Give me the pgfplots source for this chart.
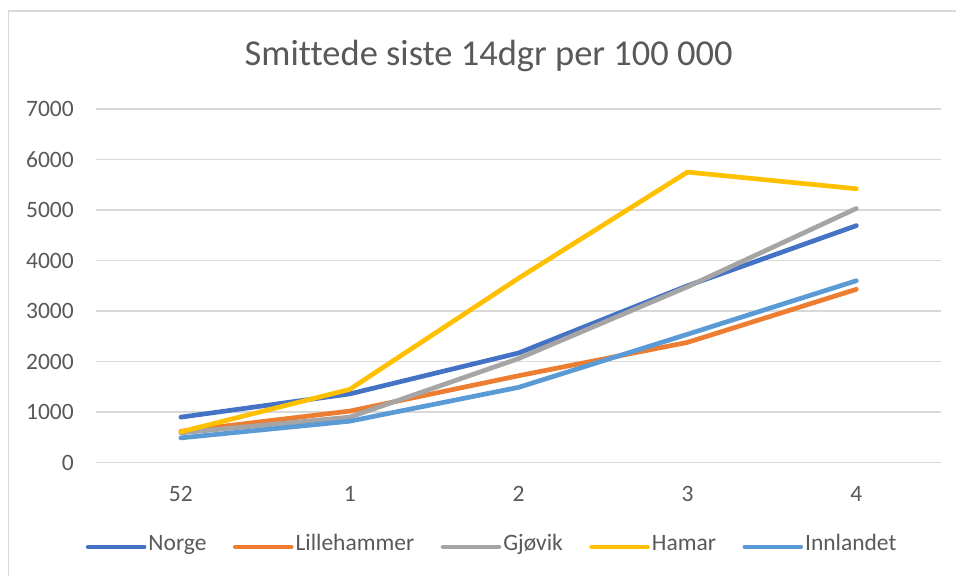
\documentclass[border=0pt]{standalone}
\usepackage{fontspec}
\setmainfont{Carlito}[Ligatures={NoCommon}]
\usepackage{pgfplots}
\pgfplotsset{compat=1.18}
\definecolor{cNorge}{HTML}{4472C4}
\definecolor{cLille}{HTML}{ED7D31}
\definecolor{cGjovik}{HTML}{A5A5A5}
\definecolor{cHamar}{HTML}{FFC000}
\definecolor{cInn}{HTML}{5B9BD5}
\definecolor{txt}{HTML}{595959}
\definecolor{gridc}{HTML}{D9D9D9}
\begin{document}
\begin{tikzpicture}
% page size and chart border (1px = 1pt; axis box south west at (96.5,463) px)
\path[fill=white] (-96.5pt,-113pt) rectangle (860.5pt,463pt);
\draw[gridc, line width=1.5pt] (-88pt,-113pt) -- (-88pt,452pt) -- (860.5pt,452pt);
\node[anchor=base, text=txt, font=\fontsize{36.5}{40}\selectfont] at (392.5pt,397pt) {Smittede siste 14dgr per 100 000};
\begin{axis}[
  at={(0pt,0pt)}, anchor=south west,
  scale only axis, width=845pt, height=354pt,
  xmin=-0.5, xmax=4.5, ymin=0, ymax=7000,
  xtick={0,1,2,3,4}, xticklabels={52,1,2,3,4},
  ytick={0,1000,...,7000},
  ymajorgrids, grid style={gridc, line width=1.3pt},
  axis line style={draw=none},
  major tick length=0pt,
  tick style={draw=none},
  /pgf/number format/assume math mode=true,
  /pgf/number format/set thousands separator={},
  ticklabel style={font=\fontsize{23.5}{28}\selectfont, text=txt, inner sep=0pt},
  yticklabel style={anchor=east, xshift=-22.5pt},
  xticklabel style={anchor=north, yshift=-23.7pt},
  clip=false,
  legend columns=5,
  legend style={at={(0.4675,-0.2381)}, anchor=center, draw=none, fill=none,
    inner sep=0pt, column sep=0pt,
    font=\fontsize{23.5}{28}\selectfont, text=txt,
    cells={anchor=center},
    nodes={inner sep=0pt, text height=0.64em, text depth=0pt},
    /tikz/every odd column/.style={column sep=2pt},
    /tikz/every even column/.style={column sep=26.5pt}},
  legend image code/.code={
    \path (0pt,0pt) -- (56pt,0pt);
    \draw[#1, line width=4.7pt, line cap=round] (2.35pt,0pt) -- (53.65pt,0pt);
  },
  every axis plot/.append style={line width=4.7pt, line join=round, line cap=round, no markers},
]
\addplot[cNorge] coordinates {(0,900) (1,1360) (2,2170) (3,3500) (4,4690)};
\addlegendentry{Norge}
\addplot[cLille] coordinates {(0,620) (1,1020) (2,1720) (3,2380) (4,3430)};
\addlegendentry{Lillehammer}
\addplot[cGjovik] coordinates {(0,590) (1,900) (2,2060) (3,3480) (4,5030)};
\addlegendentry{Gjøvik}
\addplot[cHamar] coordinates {(0,610) (1,1450) (2,3650) (3,5750) (4,5420)};
\addlegendentry{Hamar}
\addplot[cInn] coordinates {(0,490) (1,820) (2,1490) (3,2540) (4,3600)};
\addlegendentry{Innlandet}
\end{axis}
\end{tikzpicture}
\end{document}
